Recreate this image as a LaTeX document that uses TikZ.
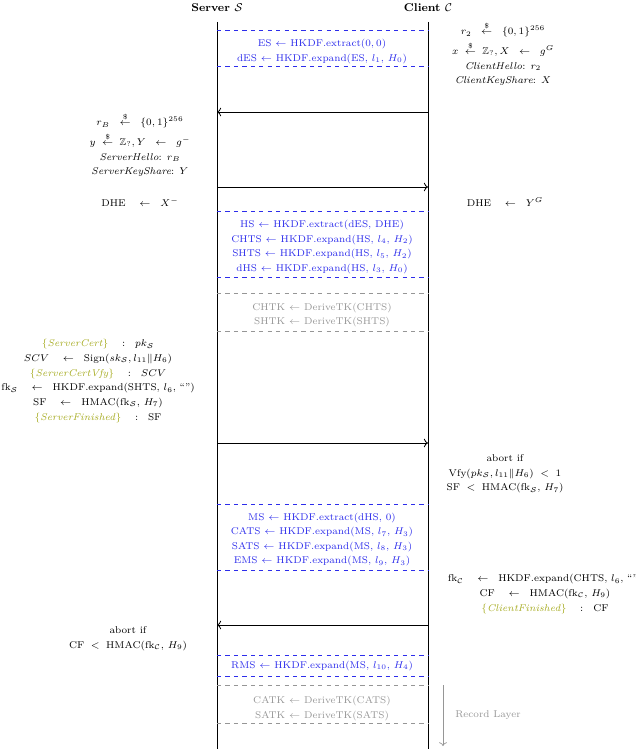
\documentclass[tikz,border=0pt]{standalone}
\definecolor{KeyBlue}{RGB}{45, 45, 235}
\definecolor{MsgOlive}{RGB}{165, 170, 30}
\definecolor{TKGray}{RGB}{150, 150, 150}
\usepackage{amsmath, amssymb}
\usepackage{tikz}
\usetikzlibrary{arrows.meta}

\tikzset{
  lifeline/.style={line width=0.7pt},
  keysep/.style={KeyBlue, dashed, line width=0.6pt},
  tksep/.style={TKGray, dashed, line width=0.6pt},
  msg/.style={->, line width=0.6pt},
  party/.style={font=\linespread{1.3}\scriptsize, align=center},
  keytext/.style={party, text=KeyBlue},
  tktext/.style={party, text=TKGray},
}
\newcommand{\rnd}{\stackrel{\$}{\leftarrow}}
\newcommand{\olv}[1]{\textcolor{MsgOlive}{\{\textit{#1}\}}}

\begin{document}
\begin{tikzpicture}[x=0.025cm, y=-0.025cm]
        \useasboundingbox (0,0) rectangle (636,749);

        % parties
        \node[font=\footnotesize\bfseries] (srvname) at (217, 8) {Server $\mathcal{S}$};
        \node[font=\footnotesize\bfseries] (cltname) at (428, 8) {Client $\mathcal{C}$};
        \coordinate (S) at (217, 22);
        \coordinate (C) at (428, 22);
        \coordinate (Send) at (217, 749);
        \coordinate (Cend) at (428, 749);
        \draw[lifeline] (S) -- (Send);
        \draw[lifeline] (C) -- (Cend);

        % key schedule separators
        \foreach \y in {30, 66, 211, 277, 504, 570, 655, 676}
            \draw[keysep] (S |- 0,\y) -- (C |- 0,\y);
        \foreach \y in {293, 331, 685, 723}
            \draw[tksep] (S |- 0,\y) -- (C |- 0,\y);

        % messages
        \draw[msg] (C |- 0,112) -- (S |- 0,112);
        \draw[msg] (S |- 0,187) -- (C |- 0,187);
        \draw[msg] (S |- 0,443) -- (C |- 0,443);
        \draw[msg] (C |- 0,625) -- (S |- 0,625);

        % key schedule
        \node[keytext] (es) at (322, 51.5) {ES $\leftarrow$ HKDF.extract$(0,0)$\\
            dES $\leftarrow$ HKDF.expand(ES, $l_1$, $H_0$)};
        \node[keytext] (hs) at (322, 247) {HS $\leftarrow$ HKDF.extract(dES, DHE)\\
            CHTS $\leftarrow$ HKDF.expand(HS, $l_4$, $H_2$)\\
            SHTS $\leftarrow$ HKDF.expand(HS, $l_5$, $H_2$)\\
            dHS $\leftarrow$ HKDF.expand(HS, $l_3$, $H_0$)};
        \node[tktext] (htk) at (322, 315) {CHTK $\leftarrow$ DeriveTK(CHTS)\\
            SHTK $\leftarrow$ DeriveTK(SHTS)};
        \node[keytext] (ms) at (322, 539.5) {MS $\leftarrow$ HKDF.extract(dHS, $0$)\\
            CATS $\leftarrow$ HKDF.expand(MS, $l_7$, $H_3$)\\
            SATS $\leftarrow$ HKDF.expand(MS, $l_8$, $H_3$)\\
            EMS $\leftarrow$ HKDF.expand(MS, $l_9$, $H_3$)};
        \node[keytext] (rms) at (322, 666) {RMS $\leftarrow$ HKDF.expand(MS, $l_{10}$, $H_4$)};
        \node[tktext] (atk) at (322, 708.5) {CATK $\leftarrow$ DeriveTK(CATS)\\
            SATK $\leftarrow$ DeriveTK(SATS)};

        % client side
        \node[party] (chello) at (503, 54) {$r_2 \;\;\rnd\;\; \{0,1\}^{256}$\\[2.5pt]
            $x \;\rnd\; \mathbb{Z}_{?}, X \;\;\leftarrow\;\; g^{G}$\\
            \textit{ClientHello}: $r_2$\\
            \textit{ClientKeyShare}: $X$};
        \node[party] (cdhe) at (505, 202) {DHE \quad$\leftarrow$\quad $Y^{G}$};
        \node[party] (cabort) at (505, 474) {abort if\\
            Vfy$(pk_{\mathcal{S}}, l_{11}\|H_6)$ \;$<$\; 1\\
            SF \;$<$\; HMAC(fk$_{\mathcal{S}}$, $H_7$)};
        \node[party] (cfin) at (545, 594) {fk$_{\mathcal{C}}$ \quad$\leftarrow$\quad HKDF.expand(CHTS, $l_6$, ``'')\\
            CF \quad$\leftarrow$\quad HMAC(fk$_{\mathcal{C}}$, $H_9$)\\
            \olv{ClientFinished} \quad:\quad CF};

        % server side
        \node[party] (shello) at (140, 145) {$r_B \;\;\rnd\;\; \{0,1\}^{256}$\\[2.5pt]
            $y \;\rnd\; \mathbb{Z}_{?}, Y \;\;\leftarrow\;\; g^{-}$\\
            \textit{ServerHello}: $r_B$\\
            \textit{ServerKeyShare}: $Y$};
        \node[party] (sdhe) at (140, 202) {DHE \quad$\leftarrow$\quad $X^{-}$};
        \node[party] (sfin) at (98, 381) {\olv{ServerCert} \quad:\quad $pk_{\mathcal{S}}$\\
            $SCV$ \quad$\leftarrow$\quad Sign$(sk_{\mathcal{S}}, l_{11}\|H_6)$\\
            \olv{ServerCertVfy} \quad:\quad $SCV$\\
            fk$_{\mathcal{S}}$ \quad$\leftarrow$\quad HKDF.expand(SHTS, $l_6$, ``'')\\
            SF \quad$\leftarrow$\quad HMAC(fk$_{\mathcal{S}}$, $H_7$)\\
            \olv{ServerFinished} \quad:\quad SF};
        \node[party] (sabort) at (128, 638.5) {abort if\\
            CF \;$<$\; HMAC(fk$_{\mathcal{C}}$, $H_9$)};

        % record layer
        \coordinate (rltop) at (443, 685);
        \coordinate (rlbot) at (443, 746);
        \draw[->, TKGray, line width=0.5pt] (rltop) -- (rlbot);
        \node[tktext] (rl) at (488, 715) {Record Layer};
    \end{tikzpicture}
\end{document}
